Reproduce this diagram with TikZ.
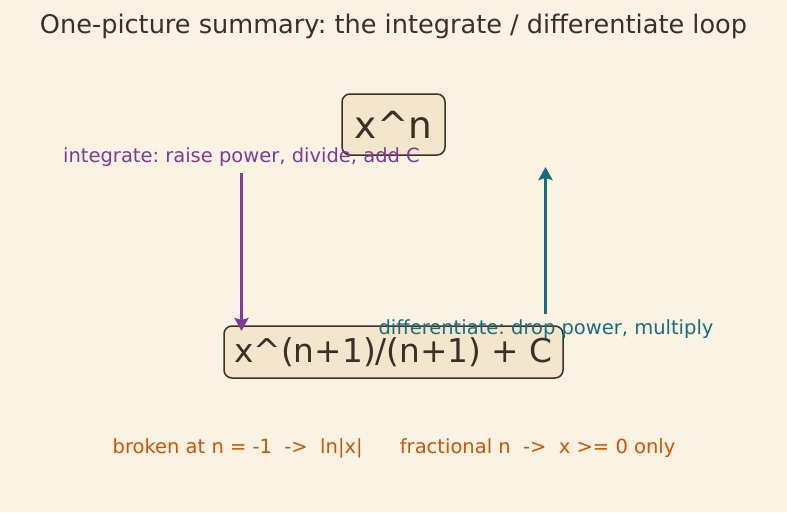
\documentclass[tikz,border=0pt]{standalone}
\usepackage{fontspec}
\setmainfont{DejaVu Sans}
\usetikzlibrary{arrows.meta}
\definecolor{bgc}{HTML}{FAF2E3}
\definecolor{ink}{HTML}{3B2F2A}
\definecolor{boxfill}{HTML}{F4E5CD}
\definecolor{purp}{HTML}{7D3C98}
\definecolor{tealc}{HTML}{1A6E7A}
\definecolor{orng}{HTML}{D35400}
\tikzset{
  mathbox/.style={draw=ink, fill=boxfill, line width=1.5pt, rounded corners=8pt, text=ink, inner sep=0pt, align=center},
  lbl/.style={inner sep=0pt, font=\fontsize{19.5}{23}\selectfont},
  flow/.style={line width=3.6pt, -{Stealth[length=13pt,width=14pt,inset=2pt]}}
}
\frenchspacing
\begin{document}
\begin{tikzpicture}[x=1pt,y=-1pt]
\fill[bgc] (0,0) rectangle (787,512);
\useasboundingbox (0,0) rectangle (787,512);
\node[text=ink, inner sep=0pt, font=\fontsize{25.6}{30}\selectfont] (title) at (393.5,26) {One-picture summary: the integrate / differentiate loop};
\node[mathbox, minimum width=103pt, minimum height=61pt, font=\fontsize{37.4}{42}\selectfont] (top) at (393.5,124.5) {x\textasciicircum n};
\node[mathbox, minimum width=339pt, minimum height=52pt, font=\fontsize{32.8}{38}\selectfont] (bot) at (393.5,352) {x\textasciicircum(n+1)/(n+1) + C};
\node[lbl, text=purp] (intl) at (241.5,157) {integrate: raise power, divide, add C};
\node[lbl, text=tealc] (difl) at (546,329) {differentiate: drop power, multiply};
\node[lbl, text=orng] (note) at (394,448) {broken at n = -1~~->~~ln|x|~~~~~~fractional n~~->~~x >= 0 only};
\coordinate (a1) at (241.5,173);
\coordinate (a2) at (241.5,331);
\coordinate (b1) at (545.5,314);
\coordinate (b2) at (545.5,167);
\draw[flow, purp] (a1) -- (a2);
\draw[flow, tealc] (b1) -- (b2);
\end{tikzpicture}
\end{document}
